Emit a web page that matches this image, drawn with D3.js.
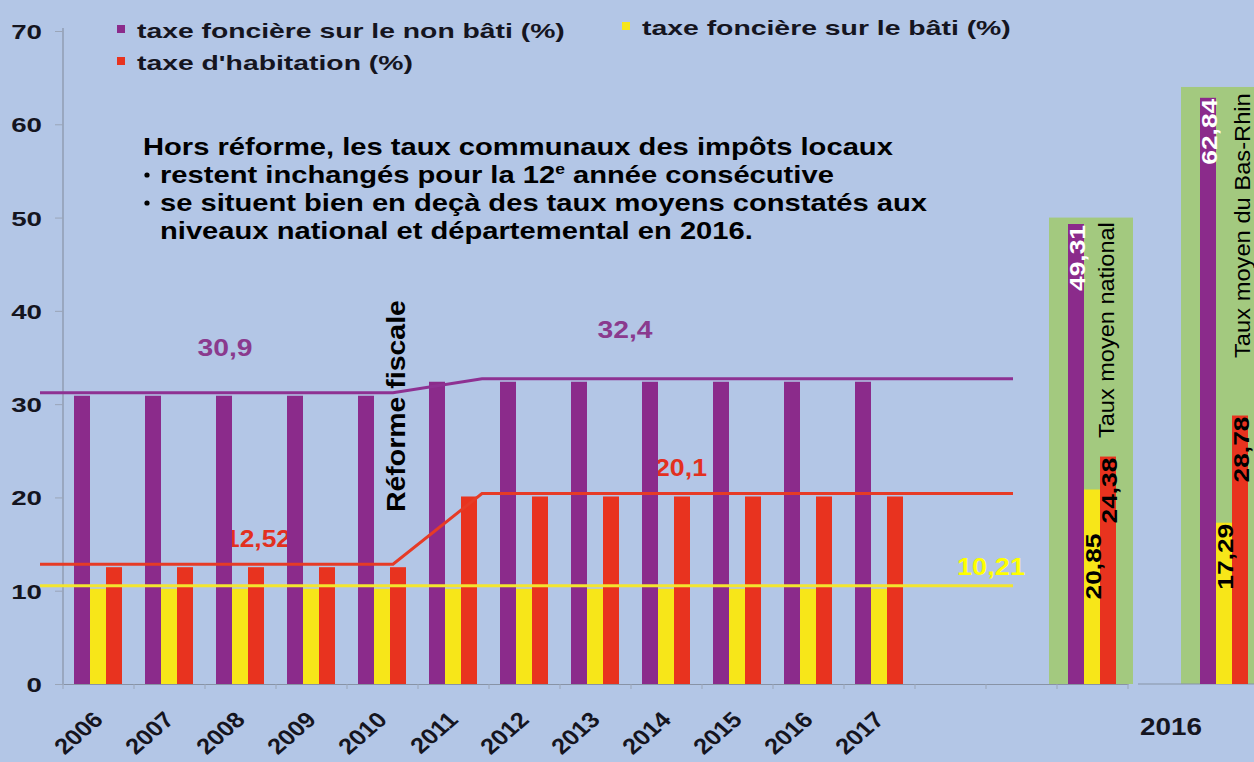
<!DOCTYPE html>
<html>
<head>
<meta charset="utf-8">
<script src="https://cdn.jsdelivr.net/npm/d3@7"></script>
<style>
  body { margin: 0; background: #b3c6e6; }
  text { font-family: "Liberation Sans", Arial, sans-serif; }
</style>
</head>
<body>
<div id="chart"></div>
<script>
// data
var years = ["2006", "2007", "2008", "2009", "2010", "2011", "2012", "2013", "2014", "2015", "2016", "2017"];
var nonBati = [30.9, 30.9, 30.9, 30.9, 30.9, 32.4, 32.4, 32.4, 32.4, 32.4, 32.4, 32.4];
var bati = [10.21, 10.21, 10.21, 10.21, 10.21, 10.21, 10.21, 10.21, 10.21, 10.21, 10.21, 10.21];
var habitation = [12.52, 12.52, 12.52, 12.52, 12.52, 20.1, 20.1, 20.1, 20.1, 20.1, 20.1, 20.1];

var compareGroups = ["Taux moyen national", "Taux moyen du Bas-Rhin"];
var compareNonBati = [49.31, 62.84];
var compareBati = [20.85, 17.29];
var compareHabitation = [24.38, 28.78];
var panelTop = [50, 64];
var compareYear = "2016";

var seriesKeys = ["nonBati", "bati", "habitation"];
var seriesNames = ["taxe foncière sur le non bâti (%)", "taxe foncière sur le bâti (%)", "taxe d'habitation (%)"];
var levelsBefore = [30.9, 10.21, 12.52];   // 2006-2010
var levelsAfter = [32.4, 10.21, 20.1];     // 2011-2017
var yTicks = [0, 10, 20, 30, 40, 50, 60, 70];

var colors = { nonBati: "#8b2b8b", bati: "#f7e619", habitation: "#e8331f" };
var lineColors = { nonBati: "#8e3192", bati: "#f3e52e", habitation: "#e63b26" };
var green = "#a3c97f";
var ink = "#15151f";

var W = 1254, H = 762;

var svg = d3.select("#chart").append("svg")
    .attr("width", W)
    .attr("height", H);

svg.append("rect").attr("width", W).attr("height", H).attr("fill", "#b3c6e6");

// text helper: the picture is stretched sideways, so each text is fitted to its measured width
function addText(parent, txt, o) {
    var tf = "translate(" + o.x + "," + o.y + ")" + (o.rotate ? " rotate(" + o.rotate + ")" : "");
    var g = parent.append("g").attr("transform", tf);
    var t = g.append("text")
        .attr("text-anchor", o.anchor || "start")
        .attr("fill", o.fill || ink)
        .style("font-size", o.size + "px")
        .style("font-weight", o.weight || "bold");
    if (typeof txt === "string") {
        t.text(txt);
    } else {
        txt.forEach(function (p) {
            var ts = t.append("tspan").text(p.t);
            if (p.sup) ts.attr("dy", -9).style("font-size", (o.size * 0.6) + "px");
            if (p.after) ts.attr("dy", 9);
        });
    }
    if (o.w) {
        var w = t.node().getComputedTextLength();
        t.attr("transform", "scale(" + (o.w / w) + ",1)");
    } else if (o.sx) {
        t.attr("transform", "scale(" + o.sx + ",1)");
    }
    return t;
}

// scales
var slots = years.concat(["gap1", "gap2", "national"]);
var x0 = d3.scaleBand().domain(slots).range([63, 1128]);
var xb = d3.scaleBand().domain(["basRhin"]).range([1189, 1260]);
var x1 = d3.scaleBand().domain(seriesKeys).range([11, 59]);
var y = d3.scaleLinear().domain([0, 70]).range([684, 31]);

// green panels for the 2016 averages
var panelX = [x0("national"), xb("basRhin")];
svg.selectAll(".panel")
    .data(panelTop)
    .enter()
    .append("rect")
    .attr("class", "panel")
    .attr("x", function (d, i) { return panelX[i] - 8; })
    .attr("y", function (d) { return y(d); })
    .attr("width", 84)
    .attr("height", function (d) { return y(0) - y(d); })
    .attr("fill", green);

// axes
var yAxis = svg.append("g")
    .attr("transform", "translate(63,0)")
    .call(d3.axisLeft(y).tickValues(yTicks).tickSize(8).tickSizeOuter(0).tickFormat(d3.format("d")));
yAxis.select(".domain").attr("stroke", "#8893a6").attr("stroke-width", 1.2)
    .attr("d", "M0," + (y(70) - 3) + "V" + y(0));
yAxis.selectAll(".tick line").attr("stroke", "#9aa5b8");
yAxis.selectAll(".tick text")
    .attr("x", 0).attr("dy", "0.36em")
    .attr("fill", ink)
    .style("font-size", "21px").style("font-weight", "bold")
    .attr("transform", "translate(-21,0) scale(1.32,1)");

var xAxis = svg.append("g")
    .attr("transform", "translate(0," + y(0) + ")")
    .call(d3.axisBottom(x0).tickSize(0).tickFormat(""));
xAxis.select(".domain").attr("stroke", "#8893a6").attr("stroke-width", 1.2);
xAxis.selectAll(".tick").remove();

var bounds = slots.map(function (s) { return x0(s); }).concat([x0.range()[1]]);
xAxis.selectAll(".bound")
    .data(bounds)
    .enter()
    .append("line")
    .attr("class", "bound")
    .attr("x1", function (d) { return d; })
    .attr("x2", function (d) { return d; })
    .attr("y1", 0).attr("y2", 5)
    .attr("stroke", "#9aa5b8");

svg.append("line")
    .attr("x1", 1138).attr("x2", W)
    .attr("y1", y(0)).attr("y2", y(0))
    .attr("stroke", "#8893a6").attr("stroke-width", 1.2);

// year labels, slanted
years.forEach(function (yr) {
    var cx = x0(yr) + x0.bandwidth() / 2;
    svg.append("g")
        .attr("transform", "translate(" + (cx + 6) + ",721) scale(1.15,1) rotate(-45)")
        .append("text")
        .attr("text-anchor", "end")
        .attr("fill", ink)
        .style("font-size", "22px").style("font-weight", "bold")
        .text(yr);
});
addText(svg, compareYear, { x: 1171, y: 735, size: 23, anchor: "middle", w: 62 });

// labels on the level lines
addText(svg, "30,9", { x: 225, y: y(levelsBefore[0]) - 40, size: 23, anchor: "middle", w: 55, fill: "#8a3a8e" });
addText(svg, "32,4", { x: 625, y: y(levelsAfter[0]) - 44, size: 23, anchor: "middle", w: 55, fill: "#8a3a8e" });
addText(svg, "12,52", { x: 258, y: y(levelsBefore[2]) - 20, size: 23, anchor: "middle", w: 66, fill: "#e2301f" });
addText(svg, "20,1", { x: 681, y: y(levelsAfter[2]) - 20, size: 23, anchor: "middle", w: 52, fill: "#e2301f" });
addText(svg, "10,21", { x: 991, y: y(levelsAfter[1]) - 14, size: 24, anchor: "middle", w: 68, fill: "#ffff00" });

// yearly bars
var rows = years.map(function (yr, i) {
    return { key: yr, nonBati: nonBati[i], bati: bati[i], habitation: habitation[i] };
});
var groups = svg.append("g").selectAll("g")
    .data(rows)
    .enter()
    .append("g")
    .attr("transform", function (d) { return "translate(" + x0(d.key) + ",0)"; });
groups.selectAll("rect")
    .data(function (d) { return seriesKeys.map(function (k) { return { key: k, value: d[k] }; }); })
    .enter()
    .append("rect")
    .attr("x", function (d) { return x1(d.key); })
    .attr("y", function (d) { return y(d.value); })
    .attr("width", x1.bandwidth())
    .attr("height", function (d) { return y(0) - y(d.value); })
    .attr("fill", function (d) { return colors[d.key]; });

// comparison bars (2016 averages)
var compRows = compareGroups.map(function (g, i) {
    return { name: g, x: panelX[i], nonBati: compareNonBati[i], bati: compareBati[i], habitation: compareHabitation[i] };
});
var comp = svg.append("g").selectAll("g")
    .data(compRows)
    .enter()
    .append("g")
    .attr("transform", function (d) { return "translate(" + d.x + ",0)"; });
comp.selectAll("rect")
    .data(function (d) { return seriesKeys.map(function (k) { return { key: k, value: d[k] }; }); })
    .enter()
    .append("rect")
    .attr("x", function (d) { return x1(d.key); })
    .attr("y", function (d) { return y(d.value); })
    .attr("width", x1.bandwidth())
    .attr("height", function (d) { return y(0) - y(d.value); })
    .attr("fill", function (d) { return colors[d.key]; });

// level lines: flat to 2010, ramp during the reform, flat to 2017
var line = d3.line()
    .x(function (d) { return d[0]; })
    .y(function (d) { return y(d[1]) - 3; });
seriesKeys.forEach(function (k, i) {
    var pts = [
        [40, levelsBefore[i]],
        [x0("2010") + 46, levelsBefore[i]],
        [x0("2011") + 64, levelsAfter[i]],
        [x0("gap2") + 27, levelsAfter[i]]
    ];
    svg.append("path")
        .datum(pts)
        .attr("d", line)
        .attr("fill", "none")
        .attr("stroke", lineColors[k])
        .attr("stroke-width", 3);
});

// value labels on the comparison bars
compRows.forEach(function (d, gi) {
    seriesKeys.forEach(function (k) {
        var v = d[k];
        var lift = (gi === 0 && k === "bati") ? 44 : 1;
        addText(svg, d3.format(".2f")(v).replace(".", ","), {
            x: d.x + x1(k) + x1.bandwidth() + 1,
            y: y(v) + lift,
            rotate: -90, anchor: "end", size: 22, w: 66,
            fill: k === "nonBati" ? "#ffffff" : "#000000"
        });
    });
});

addText(svg, compareGroups[0], { x: 1114, y: 438, rotate: -90, size: 22, weight: "normal", w: 216, fill: "#000" });
addText(svg, compareGroups[1], { x: 1250, y: 358, rotate: -90, size: 22, weight: "normal", w: 265, fill: "#000" });
addText(svg, "Réforme fiscale", { x: 405, y: 512, rotate: -90, size: 26, w: 212, fill: "#000" });

// legend
var legendPos = [{ x: 117, y: 38 }, { x: 622, y: 35 }, { x: 117, y: 70 }];
var legendW = [428, 369, 276];
seriesKeys.forEach(function (k, i) {
    svg.append("rect")
        .attr("x", legendPos[i].x).attr("y", legendPos[i].y - 13)
        .attr("width", 8).attr("height", 8)
        .attr("fill", colors[k]);
    addText(svg, seriesNames[i], { x: legendPos[i].x + 20, y: legendPos[i].y, size: 20, w: legendW[i] });
});

// note
var note = svg.append("g");
var t1 = addText(note, "Hors réforme, les taux communaux des impôts locaux", { x: 143, y: 155, size: 23, w: 750, fill: "#000" });
var sx = 750 / t1.node().getComputedTextLength();
addText(note, [{ t: "restent inchangés pour la 12" }, { t: "e", sup: true }, { t: " année consécutive", after: true }],
    { x: 160, y: 183, size: 23, sx: sx, fill: "#000" });
var l3 = "se situent bien en deçà des taux moyens constatés aux";
var t3 = addText(note, l3, { x: 160, y: 211, size: 23, sx: sx, fill: "#000" });
var extra = (767 / sx - t3.node().getComputedTextLength()) / (l3.split(" ").length - 1);
t3.style("word-spacing", extra + "px");
addText(note, "niveaux national et départemental en 2016.", { x: 160, y: 239, size: 23, sx: sx, fill: "#000" });
[183, 211].forEach(function (by) {
    note.append("circle").attr("cx", 147).attr("cy", by - 8).attr("r", 2.6).attr("fill", "#000");
});
</script>
</body>
</html>
